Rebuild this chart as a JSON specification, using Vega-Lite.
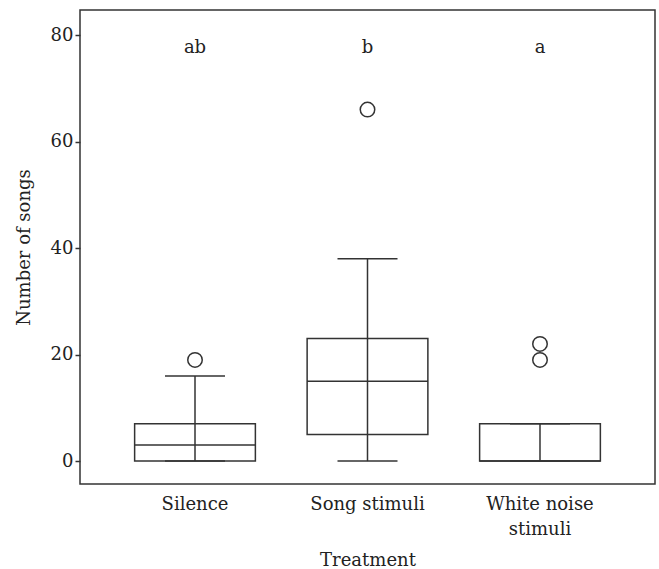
{
  "$schema": "https://vega.github.io/schema/vega-lite/v6.json",
  "width": 575,
  "height": 474,
  "autosize": {"type": "none"},
  "padding": {"left": 80, "top": 10, "right": 4, "bottom": 85},
  "background": "white",
  "config": {
    "view": {"stroke": "#333333", "strokeWidth": 1.5},
    "font": "DejaVu Serif",
    "axis": {"labelFont": "DejaVu Serif", "titleFont": "DejaVu Serif", "labelColor": "#222222", "titleColor": "#222222", "titleFontWeight": "normal", "grid": false, "domain": false}
  },
  "datasets": {
    "summary": [
      {"treatment": "Silence", "lower": 0, "q1": 0, "median": 3, "q3": 7, "upper": 16, "letter": "ab"},
      {"treatment": "Song stimuli", "lower": 0, "q1": 5, "median": 15, "q3": 23, "upper": 38, "letter": "b"},
      {"treatment": "White noise stimuli", "lower": 0, "q1": 0, "median": 0, "q3": 7, "upper": 7, "letter": "a"}
    ],
    "outliers": [
      {"treatment": "Silence", "songs": 19},
      {"treatment": "Song stimuli", "songs": 66},
      {"treatment": "White noise stimuli", "songs": 19},
      {"treatment": "White noise stimuli", "songs": 22}
    ]
  },
  "encoding": {
    "x": {
      "field": "treatment", "type": "nominal", "sort": null,
      "scale": {"paddingInner": 0, "paddingOuter": 0.1667},
      "axis": {
        "title": "Treatment", "labelAngle": 0, "ticks": false, "labelFontSize": 18, "titleFontSize": 18,
        "labelPadding": 11, "labelLineHeight": 25, "titlePadding": 13,
        "labelExpr": "datum.label == 'White noise stimuli' ? ['White noise', 'stimuli'] : datum.label"
      }
    }
  },
  "layer": [
    {
      "data": {"name": "summary"},
      "mark": {"type": "rule", "stroke": "#333333", "strokeWidth": 1.5},
      "encoding": {
        "y": {"field": "lower", "type": "quantitative", "scale": {"domain": [-4.3, 84.7], "nice": false, "zero": false},
          "axis": {"title": "Number of songs", "values": [0, 20, 40, 60, 80], "labelFontSize": 18, "titleFontSize": 18, "tickSize": 5, "tickColor": "#333333", "tickWidth": 1.5, "labelPadding": 2, "titlePadding": 17}},
        "y2": {"field": "upper"}
      }
    },
    {
      "data": {"name": "summary"},
      "mark": {"type": "bar", "width": {"band": 0.7}, "fill": "white", "fillOpacity": 0, "stroke": "#333333", "strokeWidth": 1.5},
      "encoding": {
        "y": {"field": "q1", "type": "quantitative"},
        "y2": {"field": "q3"}
      }
    },
    {
      "data": {"name": "summary"},
      "mark": {"type": "tick", "size": 121, "thickness": 1.5, "color": "#333333", "opacity": 1},
      "encoding": {"y": {"field": "median", "type": "quantitative"}}
    },
    {
      "data": {"name": "summary"},
      "mark": {"type": "tick", "size": 60, "thickness": 1.5, "color": "#333333", "opacity": 1},
      "encoding": {"y": {"field": "lower", "type": "quantitative"}}
    },
    {
      "data": {"name": "summary"},
      "mark": {"type": "tick", "size": 60, "thickness": 1.5, "color": "#333333", "opacity": 1},
      "encoding": {"y": {"field": "upper", "type": "quantitative"}}
    },
    {
      "data": {"name": "outliers"},
      "mark": {"type": "point", "shape": "circle", "size": 210, "filled": false, "fill": "white", "fillOpacity": 1, "stroke": "#333333", "strokeWidth": 1.5, "opacity": 1},
      "encoding": {"y": {"field": "songs", "type": "quantitative"}}
    },
    {
      "data": {"name": "summary"},
      "mark": {"type": "text", "fontSize": 18, "baseline": "middle", "color": "#222222", "font": "DejaVu Serif"},
      "encoding": {
        "y": {"datum": 77.6, "type": "quantitative"},
        "text": {"field": "letter"}
      }
    }
  ]
}
